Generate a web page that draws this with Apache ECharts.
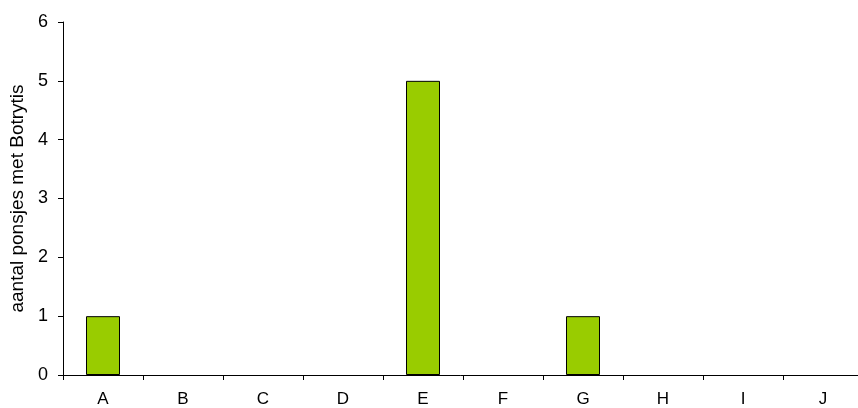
<!DOCTYPE html>
<html>
<head>
  <meta charset="utf-8">
  <title>Botrytis</title>
  <script src="https://cdn.jsdelivr.net/npm/echarts/dist/echarts.min.js"></script>
  <style>
    html, body { margin: 0; padding: 0; background: #fff; }
    #chart-container { width: 858px; height: 408px; }
  </style>
</head>
<body>
<div id="chart-container"></div>
<script>
  // categorieen en waarden
  var categories = ['A', 'B', 'C', 'D', 'E', 'F', 'G', 'H', 'I', 'J'];
  var values = [1, 0, 0, 0, 5, 0, 1, 0, 0, 0];
  var yName = 'aantal ponsjes met Botrytis';

  var myChart = echarts.init(document.getElementById('chart-container'));

  // balken met waarde 0 krijgen geen rand
  var barData = values.map(function (v) {
    return v === 0 ? { value: v, itemStyle: { borderWidth: 0 } } : v;
  });

  myChart.setOption({
    animation: false,
    textStyle: { fontFamily: 'Liberation Sans, Arial, sans-serif' },
    // as loopt rechts net buiten beeld door
    grid: { left: 63, width: 800, top: 22, bottom: 33, outerBoundsMode: 'none' },
    xAxis: {
      type: 'category',
      data: categories,
      axisLine: { lineStyle: { color: '#000', width: 1 } },
      axisTick: { show: true, length: 5, lineStyle: { color: '#000' } },
      axisLabel: { color: '#000', fontSize: 17, margin: 16 },
      splitLine: { show: false }
    },
    yAxis: {
      type: 'value',
      min: 0,
      max: 6,
      interval: 1,
      name: yName,
      nameLocation: 'middle',
      nameGap: 36,
      nameTextStyle: { color: '#000', fontSize: 19 },
      axisLine: { show: true, lineStyle: { color: '#000', width: 1 } },
      axisTick: { show: true, length: 5, lineStyle: { color: '#000' } },
      axisLabel: { color: '#000', fontSize: 18, margin: 15 },
      splitLine: { show: false }
    },
    series: [{
      type: 'bar',
      data: barData,
      barWidth: 34,
      itemStyle: { color: '#99CC00', borderColor: '#000', borderWidth: 1 }
    }]
  });
</script>
</body>
</html>
